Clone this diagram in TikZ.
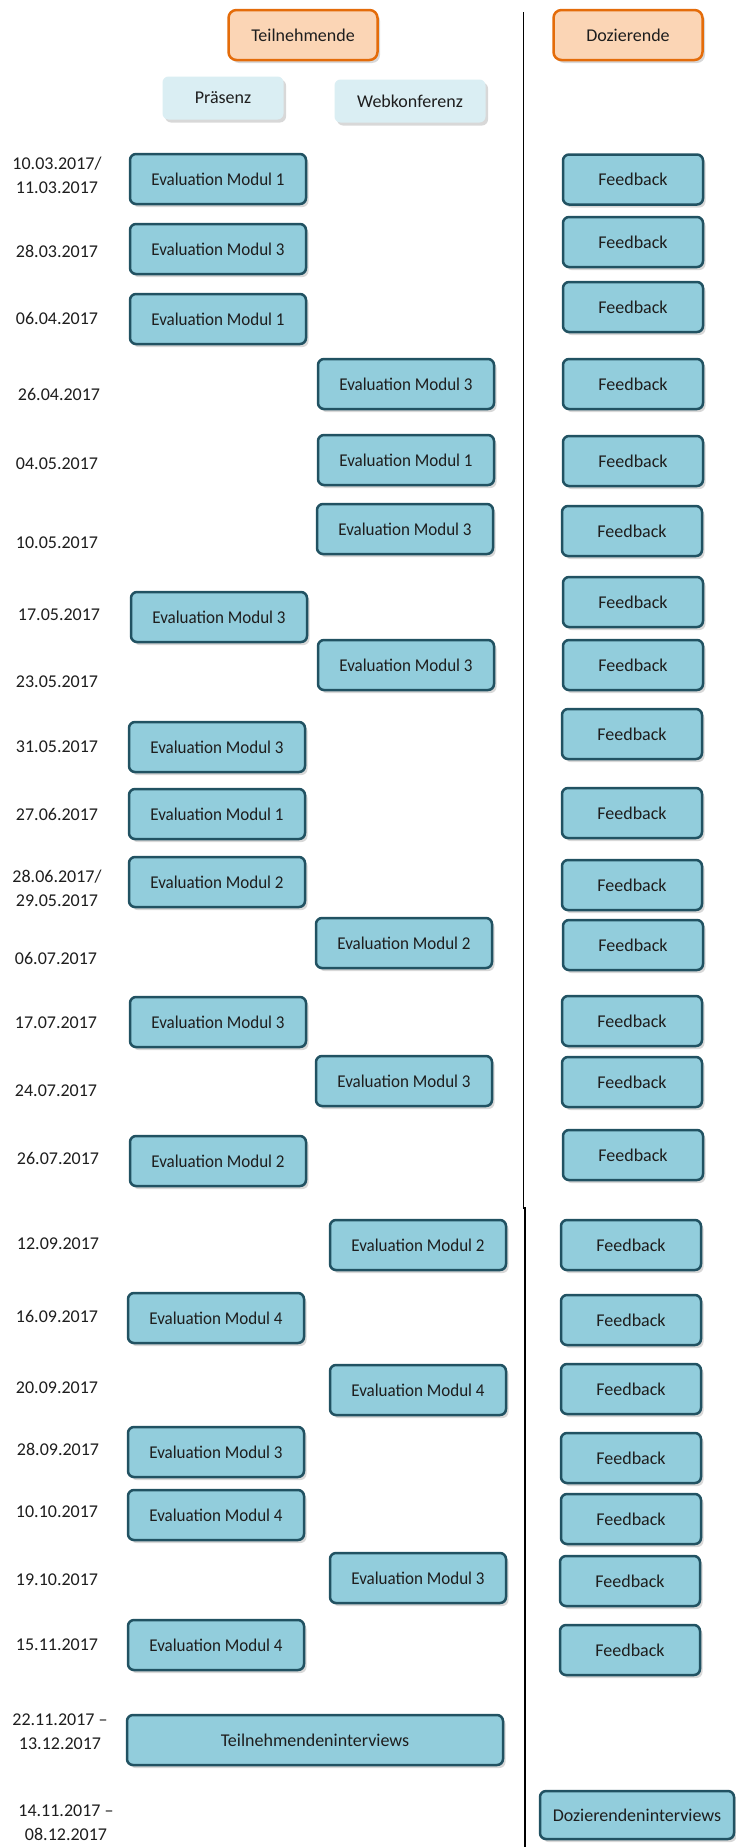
\documentclass[tikz,border=0pt]{standalone}
\usepackage{fontspec}
\setmainfont{Carlito}
\newfontfamily\narrowfont{Carlito}[FakeStretch=0.945]
\usetikzlibrary{shadows}
\definecolor{boxfill}{RGB}{146,205,220}
\definecolor{boxdraw}{RGB}{33,82,98}
\definecolor{hdrfill}{RGB}{251,213,181}
\definecolor{hdrdraw}{RGB}{228,108,10}
\definecolor{subfill}{RGB}{218,238,243}
\definecolor{txt}{RGB}{30,30,30}
\begin{document}
\begin{tikzpicture}[x=1pt,y=-1pt,
 every node/.style={font=\fontsize{18}{24}\selectfont, text=txt},
 shad/.style={drop shadow={shadow xshift=2.5pt, shadow yshift=-3pt, opacity=0.3}},
 evbox/.style={rectangle, rounded corners=6pt, fill=boxfill, draw=boxdraw, line width=2.5pt, minimum height=50pt, inner sep=0pt, shad},
 pbox/.style={evbox, minimum width=176pt, font=\narrowfont\fontsize{18}{24}\selectfont},
 wbox/.style={evbox, minimum width=176pt, font=\narrowfont\fontsize{18}{24}\selectfont},
 fbbox/.style={evbox, minimum width=140pt},
 hdr/.style={rectangle, rounded corners=8pt, fill=hdrfill, draw=hdrdraw, line width=2.5pt, minimum width=149pt, minimum height=50pt, inner sep=0pt, shad},
 sub/.style={rectangle, rounded corners=6pt, fill=subfill, minimum height=43pt, inner sep=0pt, shad},
 datum/.style={align=center, inner sep=0pt}
]
\useasboundingbox (0,0) rectangle (736,1847);
\fill[white] (0,0) rectangle (736,1847);

% divider
\coordinate (l1a) at (523.5,12);
\coordinate (l1b) at (523.5,1209);
\coordinate (l2a) at (525,1207);
\coordinate (l2b) at (525,1847);
\draw[line width=1.3pt] (l1a) -- (l1b);
\draw[line width=1.3pt] (l2a) -- (l2b);

% headers
\node[hdr] (teil) at (303,35) {Teilnehmende};
\node[hdr] (doz) at (628,35) {Dozierende};
\node[sub, minimum width=121pt] (praes) at (223,98) {Präsenz};
\node[sub, minimum width=151pt] (web) at (410,101) {Webkonferenz};

% rows
\node[datum] (d1) at (57,175) {10.03.2017/\\11.03.2017};
\node[pbox] (e1) at (218,179) {Evaluation Modul 1};
\node[fbbox] (f1) at (633,179.5) {Feedback};

\node[datum] (d2) at (57,251) {28.03.2017};
\node[pbox] (e2) at (218,249) {Evaluation Modul 3};
\node[fbbox] (f2) at (633,242) {Feedback};

\node[datum] (d3) at (57,318) {06.04.2017};
\node[pbox] (e3) at (218,319) {Evaluation Modul 1};
\node[fbbox] (f3) at (633,307) {Feedback};

\node[datum] (d4) at (59,394) {26.04.2017};
\node[wbox] (e4) at (406,384) {Evaluation Modul 3};
\node[fbbox] (f4) at (633,384) {Feedback};

\node[datum] (d5) at (57,464) {04.05.2017};
\node[wbox] (e5) at (406,460) {Evaluation Modul 1};
\node[fbbox] (f5) at (633,461) {Feedback};

\node[datum] (d6) at (57,543) {10.05.2017};
\node[wbox] (e6) at (405,529) {Evaluation Modul 3};
\node[fbbox] (f6) at (632,531) {Feedback};

\node[datum] (d7) at (59,615) {17.05.2017};
\node[pbox] (e7) at (219,617) {Evaluation Modul 3};
\node[fbbox] (f7) at (633,602) {Feedback};

\node[datum] (d8) at (57,682) {23.05.2017};
\node[wbox] (e8) at (406,665) {Evaluation Modul 3};
\node[fbbox] (f8) at (633,665) {Feedback};

\node[datum] (d9) at (57,747) {31.05.2017};
\node[pbox] (e9) at (217,747) {Evaluation Modul 3};
\node[fbbox] (f9) at (632,734) {Feedback};

\node[datum] (d10) at (57,814) {27.06.2017};
\node[pbox] (e10) at (217,814) {Evaluation Modul 1};
\node[fbbox] (f10) at (632,813) {Feedback};

\node[datum] (d11) at (57,888) {28.06.2017/\\29.05.2017};
\node[pbox] (e11) at (217,882) {Evaluation Modul 2};
\node[fbbox] (f11) at (632,885) {Feedback};

\node[datum] (d12) at (56,958) {06.07.2017};
\node[wbox] (e12) at (404,943) {Evaluation Modul 2};
\node[fbbox] (f12) at (633,945) {Feedback};

\node[datum] (d13) at (56,1023) {17.07.2017};
\node[pbox] (e13) at (218,1022) {Evaluation Modul 3};
\node[fbbox] (f13) at (632,1021) {Feedback};

\node[datum] (d14) at (56,1091) {24.07.2017};
\node[wbox] (e14) at (404,1081) {Evaluation Modul 3};
\node[fbbox] (f14) at (632,1082) {Feedback};

\node[datum] (d15) at (58,1158) {26.07.2017};
\node[pbox] (e15) at (218,1161) {Evaluation Modul 2};
\node[fbbox] (f15) at (633,1155) {Feedback};

\node[datum] (d16) at (58,1244) {12.09.2017};
\node[wbox] (e16) at (418,1245) {Evaluation Modul 2};
\node[fbbox] (f16) at (631,1245) {Feedback};

\node[datum] (d17) at (57,1316) {16.09.2017};
\node[pbox] (e17) at (216,1318) {Evaluation Modul 4};
\node[fbbox] (f17) at (631,1320) {Feedback};

\node[datum] (d18) at (57,1388) {20.09.2017};
\node[wbox] (e18) at (418,1390) {Evaluation Modul 4};
\node[fbbox] (f18) at (631,1389) {Feedback};

\node[datum] (d19) at (58,1449) {28.09.2017};
\node[pbox] (e19) at (216,1452) {Evaluation Modul 3};
\node[fbbox] (f19) at (631,1458) {Feedback};

\node[datum] (d20) at (57,1512) {10.10.2017};
\node[pbox] (e20) at (216,1515) {Evaluation Modul 4};
\node[fbbox] (f20) at (631,1519) {Feedback};

\node[datum] (d21) at (57,1580) {19.10.2017};
\node[wbox] (e21) at (418,1578) {Evaluation Modul 3};
\node[fbbox] (f21) at (630,1581) {Feedback};

\node[datum] (d22) at (57,1645) {15.11.2017};
\node[pbox] (e22) at (216,1645) {Evaluation Modul 4};
\node[fbbox] (f22) at (630,1650) {Feedback};

\node[datum] (d23) at (60,1732) {22.11.2017 –\\13.12.2017};
\node[evbox, minimum width=376pt] (ti) at (315,1740) {Teilnehmendeninterviews};

\node[datum] (d24) at (66,1823) {14.11.2017 –\\08.12.2017};
\node[evbox, minimum width=194pt, minimum height=48pt] (di) at (637,1815) {Dozierendeninterviews};
\end{tikzpicture}
\end{document}
